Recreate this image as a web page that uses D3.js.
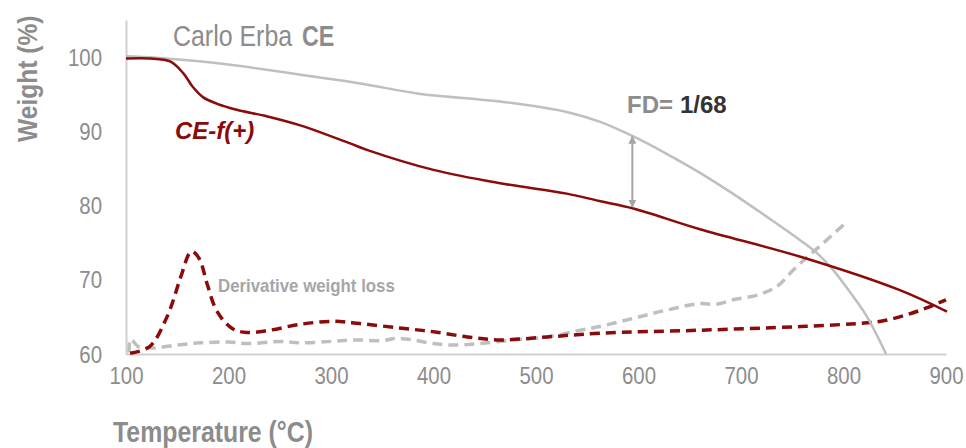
<!DOCTYPE html>
<html>
<head>
<meta charset="utf-8">
<script src="https://cdn.jsdelivr.net/npm/d3@7"></script>
<style>
  html, body { margin: 0; padding: 0; background: #ffffff; }
  svg { display: block; }
  text { font-family: "Liberation Sans", Arial, sans-serif; }
</style>
</head>
<body>
<svg id="chart" width="966" height="448"></svg>
<script>
// ---------- data ----------
const xTicks = [100, 200, 300, 400, 500, 600, 700, 800, 900];
const yTicks = [60, 70, 80, 90, 100];

// Carlo Erba CE, weight (%) vs temperature (°C)
const ceTemp   = [100, 130, 200, 270, 330, 384, 465, 530, 562, 595, 627, 660, 692, 725, 758, 774, 790, 806, 823, 841.5];
const ceWeight = [100.1, 99.9, 99.0, 97.6, 96.4, 95.1, 94.0, 92.6, 91.3, 89.3, 87.0, 84.4, 81.6, 78.5, 75.3, 73.6, 71.3, 68.4, 65.0, 60.0];

// CE-f(+), weight (%) vs temperature (°C)
const cefTemp   = [100, 123, 143, 156, 165, 175, 189, 208, 238, 270, 318, 335, 400, 465, 530, 562, 595, 660, 758, 855, 901];
const cefWeight = [99.8, 99.8, 99.4, 97.8, 96.0, 94.6, 93.7, 92.9, 92.0, 90.8, 88.4, 87.5, 84.8, 83.0, 81.6, 80.6, 79.6, 76.8, 73.1, 68.6, 65.7];

// Derivative weight loss, Carlo Erba CE (plotted on weight axis scale)
const ceDerTemp = [103, 104.5, 112, 125, 150, 172, 200, 220, 250, 270, 300, 322, 350, 363, 380, 400, 420, 445, 478, 511, 543, 562, 595, 627, 660, 676, 692, 715, 735, 751, 765, 780, 801.5];
const ceDerVal  = [60.2, 62.0, 61.0, 60.8, 61.2, 61.5, 61.6, 61.4, 61.7, 61.5, 61.7, 61.9, 61.8, 62.1, 61.9, 61.4, 61.2, 61.4, 61.9, 62.3, 63.2, 63.7, 64.8, 65.9, 66.8, 66.7, 67.3, 67.9, 69.1, 71.3, 73.1, 74.9, 77.6];

// Derivative weight loss, CE-f(+)
const cefDerTemp = [104, 123, 140, 153, 162, 165, 172, 179, 189, 204, 218, 240, 270, 302, 328, 367, 400, 433, 465, 511, 562, 660, 758, 823, 840, 862, 881, 900];
const cefDerVal  = [60.1, 61.0, 65.0, 70.2, 73.6, 73.8, 72.7, 69.5, 65.7, 63.4, 62.9, 63.2, 64.0, 64.4, 64.1, 63.5, 63.0, 62.3, 61.9, 62.3, 62.8, 63.2, 63.7, 64.2, 64.5, 65.3, 66.2, 67.3];

// FD annotation arrow (temperature, weight top, weight bottom)
const fdTemp = 594;
const fdTop = 89.3;
const fdBottom = 79.8;

// ---------- drawing ----------
const svg = d3.select("#chart");
const x = d3.scaleLinear().domain([100, 900]).range([126, 946]);
const y = d3.scaleLinear().domain([60, 105]).range([354, 19.9]);

const RED = "#8B0A0A";
const LGRAY = "#bfbfbf";
const TXT = "#8c8c8c";
const NARROW = 0.85;

const zip = (a, b) => a.map((v, i) => [v, b[i]]);
const line = d3.line().x(d => x(d[0])).y(d => y(d[1])).curve(d3.curveCatmullRom.alpha(0.5));

// axes
const xAxis = d3.axisBottom(x).tickValues(xTicks).tickSize(0).tickSizeOuter(0).tickPadding(13);
const yAxis = d3.axisLeft(y).tickValues(yTicks).tickSize(0).tickSizeOuter(0);

const gx = svg.append("g").attr("transform", `translate(0,${y(60)})`).call(xAxis);
const gy = svg.append("g").attr("transform", `translate(${x(100)},0)`).call(yAxis);
[gx, gy].forEach(g => {
  g.select(".domain").attr("stroke", "#d0d0d0").attr("stroke-width", 2);
  g.selectAll(".tick text")
    .attr("fill", TXT)
    .style("font-family", "'Liberation Sans', Arial, sans-serif")
    .style("font-size", "24px");
});
gx.selectAll(".tick text").attr("transform", `scale(${NARROW},1)`);
gy.selectAll(".tick text").attr("x", null).attr("dy", "0.34em")
  .attr("transform", `translate(-24,0) scale(${NARROW},1)`);

// derivative curves (dashed)
svg.append("path").datum(zip(ceDerTemp, ceDerVal))
  .attr("d", line).attr("fill", "none")
  .attr("stroke", LGRAY).attr("stroke-width", 3.5)
  .attr("stroke-dasharray", "10,6");
svg.append("path").datum(zip(cefDerTemp, cefDerVal))
  .attr("d", line).attr("fill", "none")
  .attr("stroke", RED).attr("stroke-width", 3.5)
  .attr("stroke-dasharray", "10,6");

// TGA curves
svg.append("path").datum(zip(ceTemp, ceWeight))
  .attr("d", line).attr("fill", "none")
  .attr("stroke", LGRAY).attr("stroke-width", 2.5);
svg.append("path").datum(zip(cefTemp, cefWeight))
  .attr("d", line).attr("fill", "none")
  .attr("stroke", RED).attr("stroke-width", 2.5);

// FD arrow
const defs = svg.append("defs");
defs.append("marker").attr("id", "arr")
  .attr("viewBox", "0 0 10 10").attr("refX", 9).attr("refY", 5)
  .attr("markerWidth", 4).attr("markerHeight", 4)
  .attr("orient", "auto-start-reverse")
  .append("path").attr("d", "M0,0 L10,5 L0,10 Z").attr("fill", "#a6a6a6");
svg.append("line")
  .attr("x1", x(fdTemp)).attr("x2", x(fdTemp))
  .attr("y1", y(fdTop)).attr("y2", y(fdBottom))
  .attr("stroke", "#a6a6a6").attr("stroke-width", 2)
  .attr("marker-start", "url(#arr)").attr("marker-end", "url(#arr)");

// texts
svg.append("text")
  .attr("transform", "translate(173,46) scale(0.86,1)")
  .attr("fill", TXT).style("font-size", "29px")
  .text("Carlo Erba");
svg.append("text")
  .attr("transform", "translate(302,46) scale(0.8,1)")
  .attr("fill", TXT).style("font-size", "29px").attr("font-weight", "bold")
  .text("CE");

svg.append("text")
  .attr("x", 175).attr("y", 139).attr("fill", RED)
  .attr("font-weight", "bold").attr("font-style", "italic")
  .style("font-size", "24px").text("CE-f(+)");

svg.append("text")
  .attr("x", 627).attr("y", 113).attr("font-weight", "bold").style("font-size", "24px")
  .attr("fill", TXT).text("FD=");
svg.append("text")
  .attr("x", 680).attr("y", 113).attr("font-weight", "bold").style("font-size", "24px")
  .attr("fill", "#333333").text("1/68");

svg.append("text")
  .attr("transform", "translate(218,291.5) scale(0.887,1)")
  .attr("fill", "#a6a6a6")
  .attr("font-weight", "bold").style("font-size", "19px")
  .text("Derivative weight loss");

svg.append("text")
  .attr("transform", "translate(113,442) scale(0.857,1)")
  .attr("fill", TXT).attr("font-weight", "bold").style("font-size", "29px")
  .text("Temperature (°C)");

svg.append("text")
  .attr("transform", "translate(37,142) rotate(-90) scale(0.878,1)")
  .attr("fill", TXT).attr("font-weight", "bold").style("font-size", "28px")
  .text("Weight (%)");
</script>
</body>
</html>
